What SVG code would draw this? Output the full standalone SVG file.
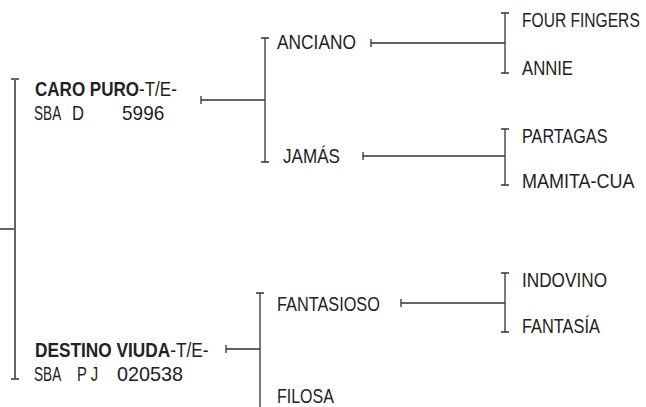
<svg xmlns="http://www.w3.org/2000/svg" width="646" height="407" viewBox="0 0 646 407">
<style>
text{font-family:"Liberation Sans",Arial,sans-serif;font-size:20px;fill:#222}
.b{font-weight:bold}
.ln{stroke:#333;stroke-width:1.3;fill:none}
.main{stroke:#666;stroke-width:2;fill:none}
</style>
<rect width="646" height="407" fill="#fff"/>
<g id="connectors">
  <path class="main" d="M0 229H15M15 79V379M11 79H19M11 379H19"/>
  <path class="ln" d="M201 96V104M201 100H265M265 38V162M261 38H269M261 162H269"/>
  <path class="ln" d="M226 345V353M226 349H260M260 293V407M256 293H264"/>
  <path class="ln" d="M371 39V47M371 43H505M505 13V73M501 13H509M501 73H509"/>
  <path class="ln" d="M363 152V160M363 156H505M505 129V185M501 129H509M501 185H509"/>
  <path class="ln" d="M401 299V307M401 303H505M505 273V332M501 273H509M501 332H509"/>
</g>
<g id="n-caro">
  <text transform="translate(35 96) scale(0.852 1)"><tspan class="b">CARO PURO</tspan>-T/E-</text>
  <text transform="translate(34 119.5) scale(0.68 1)">SBA</text>
  <text transform="translate(72 119.5) scale(0.83 1)">D</text>
  <text transform="translate(122 119.5) scale(0.95 1)">5996</text>
</g>
<g id="n-destino">
  <text transform="translate(35 357) scale(0.863 1)"><tspan class="b">DESTINO VIUDA</tspan>-T/E-</text>
  <text transform="translate(34 381) scale(0.68 1)">SBA</text>
  <text transform="translate(77 381) scale(0.74 1)">P J</text>
  <text transform="translate(117 381) scale(0.99 1)">020538</text>
</g>
<g id="n-anciano"><text transform="translate(277 49) scale(0.867 1)">ANCIANO</text></g>
<g id="n-jamas"><text transform="translate(283 163) scale(0.855 1)">JAMÁS</text></g>
<g id="n-fantasioso"><text transform="translate(277 311) scale(0.815 1)">FANTASIOSO</text></g>
<g id="n-filosa"><text transform="translate(277 403) scale(0.8 1)">FILOSA</text></g>
<g id="n-fourfingers"><text transform="translate(522 27) scale(0.78 1)">FOUR FINGERS</text></g>
<g id="n-annie"><text transform="translate(522 75) scale(0.835 1)">ANNIE</text></g>
<g id="n-partagas"><text transform="translate(522 143) scale(0.81 1)">PARTAGAS</text></g>
<g id="n-mamita"><text transform="translate(522 188) scale(0.9 1)">MAMITA-CUA</text></g>
<g id="n-indovino"><text transform="translate(522 287) scale(0.86 1)">INDOVINO</text></g>
<g id="n-fantasia"><text transform="translate(522 333) scale(0.818 1)">FANTASÍA</text></g>
</svg>
